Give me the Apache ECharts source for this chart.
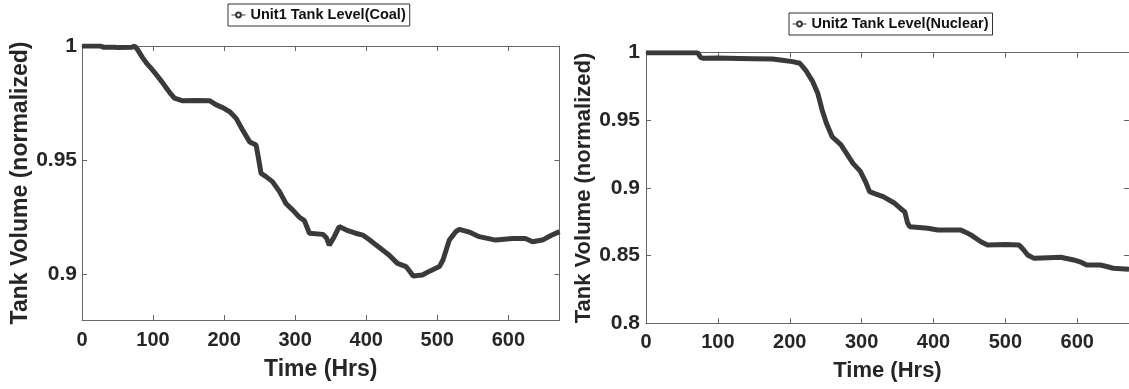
<!DOCTYPE html>
<html>
<head>
<meta charset="utf-8">
<script src="https://cdn.jsdelivr.net/npm/echarts@6/dist/echarts.min.js"></script>
<style>
  html, body { margin: 0; padding: 0; background: #fff; }
  #chart { width: 1129px; height: 389px; }
</style>
</head>
<body>
<div id="chart"></div>
<script>
// Unit1 (coal) tank level
const unit1Hours = [0, 10, 26, 30, 46, 50, 70, 74, 78, 85, 91, 98, 105, 112, 119, 125, 130, 142, 160, 180, 189, 198, 208, 217, 226, 236, 245, 248, 252, 259, 268, 278, 287, 297, 306, 313, 320, 339, 344, 348, 355, 362, 372, 385, 395, 405, 414, 432, 444, 456, 462, 466, 479, 490, 503, 508, 517, 526, 531, 545, 559, 582, 606, 624, 634, 648, 660, 672];
const unit1Level = [1.0, 1.0, 1.0, 0.9994, 0.9995, 0.9993, 0.9994, 1.0, 0.9985, 0.995, 0.9924, 0.990, 0.9873, 0.9845, 0.9815, 0.979, 0.9772, 0.976, 0.9761, 0.976, 0.9742, 0.973, 0.9712, 0.9683, 0.9632, 0.958, 0.9566, 0.9515, 0.9442, 0.9428, 0.9406, 0.9362, 0.931, 0.928, 0.925, 0.9235, 0.918, 0.9175, 0.916, 0.9128, 0.9165, 0.9209, 0.9194, 0.918, 0.9172, 0.915, 0.9128, 0.9085, 0.9048, 0.9034, 0.901, 0.8993, 0.8997, 0.9015, 0.9034, 0.9063, 0.915, 0.9187, 0.9197, 0.9185, 0.9165, 0.915, 0.9157, 0.9157, 0.9143, 0.915, 0.917, 0.9187];

// Unit2 (nuclear) tank level
const unit2Hours = [0, 72, 76, 79, 100, 130, 150, 176, 195, 204, 214, 222, 232, 239, 245, 251, 259, 271, 282, 288, 298, 306, 311, 320, 330, 346, 356, 360, 364, 367, 380, 392, 406, 438, 446, 452, 466, 475, 500, 519, 525, 531, 540, 560, 577, 595, 606, 613, 632, 641, 650, 672];
const unit2Level = [1.0, 1.0, 0.9965, 0.9959, 0.996, 0.9958, 0.9956, 0.9953, 0.994, 0.9934, 0.9922, 0.9872, 0.9786, 0.970, 0.9577, 0.9478, 0.9379, 0.932, 0.9231, 0.9182, 0.9125, 0.904, 0.8973, 0.8955, 0.8936, 0.8887, 0.884, 0.8825, 0.874, 0.8714, 0.8708, 0.8702, 0.869, 0.869, 0.867, 0.8653, 0.8603, 0.8579, 0.8582, 0.8579, 0.8545, 0.8505, 0.848, 0.8485, 0.8488, 0.8468, 0.845, 0.8431, 0.8431, 0.842, 0.8407, 0.84];

// tick labels
const timeTicks = [0, 100, 200, 300, 400, 500, 600];
const unit1Ticks = [0.9, 0.95, 1];
const unit2Ticks = [0.8, 0.85, 0.9, 0.95, 1];

const FONT = 'Liberation Sans, Arial, sans-serif';
const TEXT = '#262626';
const FRAME = '#666';
const LINE = '#3a3a3a';

// frame axis: line + inward ticks, labels optional
function axis(extra, ticks, showLabel, labelSize, margin) {
  return Object.assign({
    type: 'value',
    axisLine: { show: true, onZero: false, lineStyle: { color: FRAME, width: 1 } },
    axisTick: { show: true, inside: true, length: 5, customValues: ticks, lineStyle: { color: FRAME } },
    axisLabel: {
      show: showLabel,
      customValues: ticks,
      margin: margin,
      color: TEXT,
      fontFamily: FONT,
      fontWeight: 'bold',
      fontSize: labelSize
    },
    splitLine: { show: false }
  }, extra);
}

const legendText = { fontFamily: FONT, fontWeight: 'bold', fontSize: 14.5, color: '#111', lineHeight: 16 };

const chart = echarts.init(document.getElementById('chart'));

const option = {
  animation: false,
  backgroundColor: '#fff',
  grid: [
    { left: 82, top: 46, width: 477.5, height: 274 },
    { left: 646, top: 52.7, width: 485, height: 270.6 }
  ],
  legend: [
    {
      data: ['Unit1 Tank Level(Coal)'],
      left: 228, top: 4,
      borderColor: '#333', borderWidth: 1,
      padding: [3, 4, 3, 3],
      itemWidth: 14, itemHeight: 6,
      lineStyle: { width: 1 },
      textStyle: legendText
    },
    {
      data: ['Unit2 Tank Level(Nuclear)'],
      left: 789, top: 13,
      borderColor: '#333', borderWidth: 1,
      padding: [3, 4, 3, 3],
      itemWidth: 14, itemHeight: 6,
      lineStyle: { width: 1 },
      textStyle: legendText
    }
  ],
  xAxis: [
    axis({
      gridIndex: 0, position: 'bottom', min: 0, max: 672,
      name: 'Time (Hrs)', nameLocation: 'middle', nameGap: 38,
      nameTextStyle: { fontFamily: FONT, fontWeight: 'bold', fontSize: 23, color: TEXT }
    }, timeTicks, true, 20, 10),
    axis({ gridIndex: 0, position: 'top', min: 0, max: 672 }, timeTicks, false, 20, 8),
    axis({
      gridIndex: 1, position: 'bottom', min: 0, max: 672,
      name: 'Time (Hrs)', nameLocation: 'middle', nameGap: 37,
      nameTextStyle: { fontFamily: FONT, fontWeight: 'bold', fontSize: 22, color: TEXT }
    }, timeTicks, true, 20, 9),
    axis({ gridIndex: 1, position: 'top', min: 0, max: 672 }, timeTicks, false, 20, 8)
  ],
  yAxis: [
    axis({
      gridIndex: 0, position: 'left', min: 0.88, max: 1,
      name: 'Tank Volume (normalized)', nameLocation: 'middle', nameGap: 49,
      nameTextStyle: { fontFamily: FONT, fontWeight: 'bold', fontSize: 23, color: TEXT }
    }, unit1Ticks, true, 21, 5),
    axis({ gridIndex: 0, position: 'right', min: 0.88, max: 1 }, unit1Ticks, false, 21, 5),
    axis({
      gridIndex: 1, position: 'left', min: 0.8, max: 1,
      name: 'Tank Volume (normalized)', nameLocation: 'middle', nameGap: 49,
      nameTextStyle: { fontFamily: FONT, fontWeight: 'bold', fontSize: 22, color: TEXT }
    }, unit2Ticks, true, 21, 6),
    axis({ gridIndex: 1, position: 'right', min: 0.8, max: 1 }, unit2Ticks, false, 21, 6)
  ],
  series: [
    {
      name: 'Unit1 Tank Level(Coal)',
      type: 'line',
      xAxisIndex: 0, yAxisIndex: 0,
      data: unit1Hours.map((h, i) => [h, unit1Level[i]]),
      symbol: 'emptyCircle', symbolSize: 5, showSymbol: false,
      lineStyle: { color: LINE, width: 5 },
      itemStyle: { color: LINE },
      clip: true
    },
    {
      name: 'Unit2 Tank Level(Nuclear)',
      type: 'line',
      xAxisIndex: 2, yAxisIndex: 2,
      data: unit2Hours.map((h, i) => [h, unit2Level[i]]),
      symbol: 'emptyCircle', symbolSize: 5, showSymbol: false,
      lineStyle: { color: LINE, width: 5 },
      itemStyle: { color: LINE },
      clip: true
    }
  ]
};

chart.setOption(option);
</script>
</body>
</html>
